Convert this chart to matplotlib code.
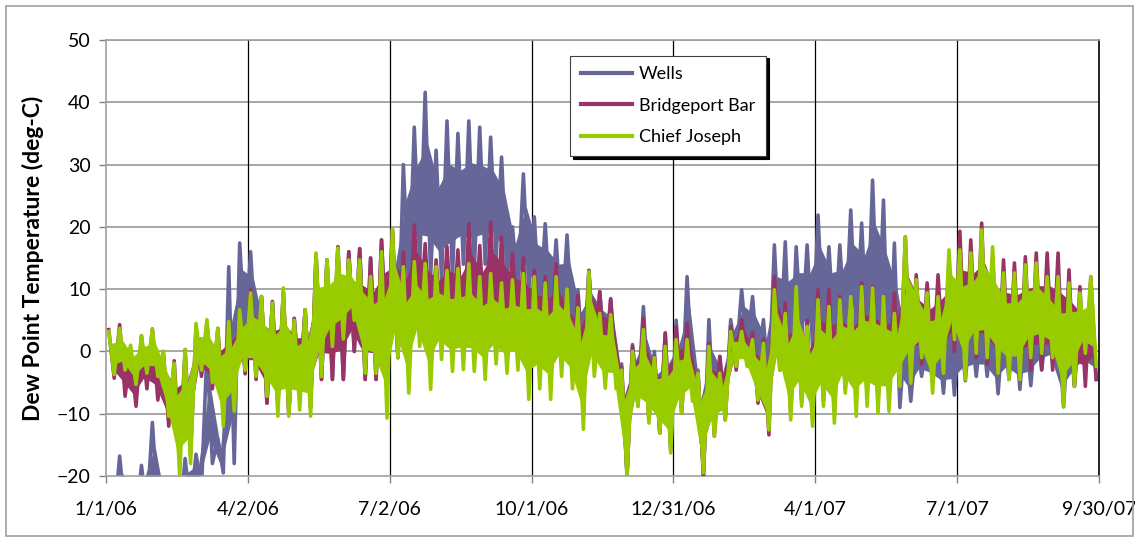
import matplotlib
matplotlib.use("Agg")
import matplotlib.pyplot as plt
from matplotlib.patches import Rectangle
import numpy as np

plt.rcParams['font.family'] = ['Lato', 'DejaVu Sans']

# Weekly (7-day) high / low values, week 0 starts 1/1/06
wells_hi = [-24, -16.8, -24, -18.3, -11.4, -24, -22, -17.2, -16.5, 0.2,
            -14, 13.6, 17.4, 16, 8.8, 8.0, 9.5, 5.3, 6.7, 15.5,
            14.7, 16.8, 16, 16.5, 15, 17.9, 19.5, 30, 36, 41.6,
            32.3, 37, 35, 37, 36, 34.4, 31.2, 20, 28.5, 21.6,
            20.5, 17.9, 18.7, 9.9, 13, 9.6, 8.5, -2, 1.1, 7.2,
            0, 3, 5, 12, -3, 5.1, -0.8, 5.1, 9.9, 8.8,
            5.1, 17.1, 17.6, 16.8, 17.1, 21.9, 16.8, 17.1, 22.7, 20.6,
            27.5, 24.3, 17.4, 3, 2, 3, 3, 5, 5, 5,
            5, 5, 5, 5, 5, 5, 5, 5, 5, 5, 5]
wells_lo = [-27, -26, -27, -26, -25, -27, -27, -25, -22, -18,
            -19.5, -18, 2, 1, -8.3, -8.5, -10, -6, -9, -4.5,
            -4.5, -4.5, 0, -4.5, -4.5, -1, -1, 10, 14, 12,
            11.5, 12, 14, 13, 14, 15, 12, 10, 10, 6,
            5, 4, 3, -3, 0, -1, -3, -20, -8, -10,
            -13, -15, -9, -5, -20, -12, -10, -1, 0.3, -2,
            -6, -1, -5, 2, 1, 3, 2, 3, 3, 2,
            2, -6, -9, -8, -4, -5.1, -6.7, -7, -4.7, -4,
            -4, -6.8, -4.5, -6.1, -5.5, -3, -2, -8.9, -5.6, -3, -4.5]

bridgeport_hi = [3.5, 4.3, 0, 2.5, 3.6, 0, -1.5, 0.3, 4.0, 4.5,
                 3.7, 4.8, 6.7, 9.9, 8.8, 8.0, 9.5, 5.3, 6.7, 15.5,
                 14.7, 16.8, 16, 16.5, 15, 17.9, 19.5, 16, 20.3, 17.3,
                 14.7, 16.8, 16.3, 20.5, 17, 20.8, 18.4, 15.7, 15, 13,
                 12, 14.1, 10, 9, 13, 9.6, 8.3, -2.5, 0.8, 5.3,
                 -0.8, 2.9, 4, 4.5, -3.5, 1.3, -0.8, 4, 5.1, 3,
                 2, 12, 7.8, 8, 5, 9.9, 9.9, 8.8, 8, 11,
                 10.5, 8.3, 9.4, 18.4, 12.3, 11, 12.3, 14.2, 19.3, 17.9,
                 20.6, 15.2, 14.7, 14.2, 15.2, 15.8, 15.8, 15.8, 13.1, 10.4, 12]
bridgeport_lo = [-4.3, -7.2, -8.8, -6.0, -7.8, -12, -16.8, -16.5, -4.0, -6,
                 -9, -6, -3.6, -4.5, -8.3, -8.5, -10, -6, -9, -4.5,
                 -4.5, -4.5, 0, -4.5, -4.5, -1, -1, 0.8, 5, 2,
                 3, 3, 1.3, 3, 2, 3, 2, 1.5, 0, -1,
                 0, -2, -3, -10, -2, -4, -4.5, -20, -8.8, -11,
                 -13.1, -16, -9.9, -6, -20, -13.6, -11, -3, -1, -8.3,
                 -13.4, -3, -10, -8, -11, -8, -10, -6, -6, -7,
                 -8, -6, -5, -4, -2, -4, -2, 0, -3, -1,
                 -2, -3.5, -4, -4, -3, -2.9, -3, -7, -5.6, -5.6, -4.5]

chief_hi = [3.2, 3.7, 1.0, 2.5, 3.6, 0, -1.9, 0.3, 4.5, 5.1,
            3.7, 4.8, 6.7, 9.4, 8.8, 7.8, 10.2, 5, 6.7, 15.8,
            14.7, 16.6, 14.7, 14.7, 12, 16, 19.7, 13.6, 14.4, 14.1,
            13.6, 13, 13.3, 14.1, 12, 12.5, 11, 11.5, 12.5, 12,
            11, 12, 10, 7, 12.8, 6.1, 5.9, -3, 0, 3.5,
            -1, 0.8, 1.9, 1.9, -3.5, 0.8, -3.5, 3.2, 3.2, 1.9,
            1.3, 9.9, 6.1, 10.4, 4, 8.3, 7.2, 8.3, 8.8, 10.4,
            10.2, 8.8, 6.1, 18.4, 11.5, 9.4, 8.8, 16.3, 16.3, 15.8,
            19.5, 16.8, 12.6, 12.6, 13.9, 14.2, 12, 12, 11, 9.4, 12]
chief_lo = [-3.7, -3.0, -5.3, -3.5, -4.0, -10.4, -20, -18, -3.0, -5,
            -12, -9.6, -3, -4, -7.2, -10.4, -10.4, -9.4, -10.4, -4,
            0.8, 2, 5, -3.5, -3.5, -10.7, -1, -6.7, 0.8, -6.1,
            -1.3, -3.2, -2.9, -3.2, -4.5, -2, -3.5, -3, -7.7, -6,
            -7.7, -4, -6, -12.5, -4, -5.9, -6, -20, -8.8, -11.5,
            -13.1, -16.3, -9.9, -8, -19.5, -13.6, -11, -2.4, -2.4, -7.8,
            -12.6, -3, -11, -8.8, -12, -8.8, -11.5, -6.7, -10.4, -8.8,
            -9.9, -9.6, -5.6, -5.1, -1, -6.7, -3.5, 1.9, -4.5, -0.3,
            -1, -3.5, -4.5, -4.5, -1, -0.3, -1, -8.8, -5.6, -0.3, -2.4]

tick_days = [0, 91, 182, 273, 364, 455, 546, 637]
tick_labels = ['1/1/06', '4/2/06', '7/2/06', '10/1/06', '12/31/06',
               '4/1/07', '7/1/07', '9/30/07']
series_names = ['Wells', 'Bridgeport Bar', 'Chief Joseph']
colors = ['#666699', '#993366', '#99CC00']


def zigzag(hi, lo):
    days, vals = [], []
    for k, (h, l) in enumerate(zip(hi, lo)):
        days += [7 * k + 1.75, 7 * k + 5.25]
        vals += [h, l]
    return np.array(days), np.array(vals)


fig = plt.figure(figsize=(11.35, 5.39), dpi=100)
ax = fig.add_axes([106 / 1135, 1 - 476 / 539, (1099 - 106) / 1135, (476 - 40) / 539])

week_mid = np.arange(len(chief_hi)) * 7 + 3.5
z = 2
for (hi, lo), name, c in zip([(wells_hi, wells_lo), (bridgeport_hi, bridgeport_lo),
                              (chief_hi, chief_lo)], series_names, colors):
    hi_a, lo_a = np.array(hi), np.array(lo)
    # dense body of the hourly trace sits in the middle of each week's range
    body_top = lo_a + 0.72 * (hi_a - lo_a)
    body_bot = lo_a + 0.22 * (hi_a - lo_a)
    ax.fill_between(week_mid, body_bot, body_top, color=c, lw=0, zorder=z)
    d, v = zigzag(hi, lo)
    ax.plot(d, v, color=c, lw=2.6, label=name, solid_joinstyle='round', zorder=z + 0.5)
    z += 1

ax.set_xlim(0, 637)
ax.set_ylim(-20, 50)
ax.set_yticks(range(-20, 51, 10))
ax.set_xticks(tick_days)
ax.set_xticklabels(tick_labels)
ax.tick_params(axis='both', labelsize=14, colors='#808080', labelcolor='black',
               length=5, width=1)
ax.tick_params(axis='x', pad=13)
ax.tick_params(axis='y', pad=6)
for y in range(-10, 51, 10):
    ax.axhline(y, color='#a6a6a6', lw=1.4, zorder=0)
for x in tick_days[1:]:
    ax.axvline(x, color='black', lw=0.9, zorder=0.5)
for s in ['top', 'left', 'bottom']:
    ax.spines[s].set_color('#a0a0a0')
    ax.spines[s].set_linewidth(1.2)
ax.spines['right'].set_color('black')
ax.spines['right'].set_linewidth(1.2)

ax.set_ylabel('Dew Point Temperature (deg-C)', fontsize=16.5, fontweight='bold',
              labelpad=9)

leg = ax.legend(loc='upper left', bbox_to_anchor=(0.4585, 0.985), frameon=True,
                fancybox=False, shadow={'color': 'black', 'alpha': 1},
                fontsize=13, handlelength=2.8, labelspacing=0.85,
                borderpad=0.6, handletextpad=0.4)
leg.get_frame().set_edgecolor('#404040')
leg.get_frame().set_linewidth(0.8)
leg.set_zorder(10)
for line in leg.get_lines():
    line.set_linewidth(3)

fig.patches.append(Rectangle((6 / 1135, 3 / 539), 1127 / 1135, 530 / 539,
                             transform=fig.transFigure, fill=False,
                             edgecolor='#a0a0a0', lw=1.2))

fig.savefig('out.png', dpi=100)
